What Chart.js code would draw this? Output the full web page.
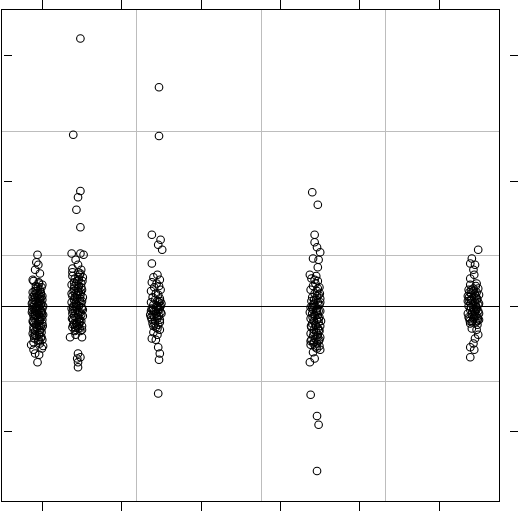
<!DOCTYPE html>
<html>
<head>
<meta charset="utf-8">
<script src="https://cdn.jsdelivr.net/npm/chart.js@4/dist/chart.umd.min.js"></script>
<style>
  html, body { margin: 0; padding: 0; background: #fff; }
  #wrap { width: 519px; height: 511px; }
</style>
</head>
<body>
<div id="wrap"><canvas id="chart"></canvas></div>
<script>
// group positions on the x axis (one strip per group)
const groupX = [0.94, 1.44, 2.43, 4.44, 6.43];

// residuals per group: [jitter, value]
const stripA = [
  [0.00, 0.41], [-0.015, 0.35], [0.01, 0.33], [0.03, 0.26], [-0.03, 0.29], [-0.06, 0.21], [0.06, 0.17],
  [-0.05, 0.20], [0.02, 0.18], [0.05, 0.15], [-0.02, 0.14], [0.00, 0.12], [-0.06, 0.11], [0.04, 0.10],
  [0.06, 0.08], [-0.03, 0.07], [0.01, 0.06], [-0.05, 0.05], [0.03, 0.04], [-0.01, 0.03], [0.05, 0.02],
  [-0.04, 0.01], [0.02, 0.00], [-0.06, -0.01], [0.06, -0.02], [0.00, -0.03], [-0.03, -0.04], [0.04, -0.05],
  [-0.05, -0.06], [0.02, -0.07], [-0.01, -0.08], [0.05, -0.09], [-0.04, -0.10], [0.03, -0.11], [-0.06, -0.12],
  [0.01, -0.13], [0.06, -0.14], [-0.02, -0.15], [0.04, -0.16], [-0.05, -0.17], [0.00, -0.18], [0.03, -0.19],
  [-0.03, -0.20], [0.05, -0.21], [-0.06, -0.22], [0.02, -0.23], [-0.01, -0.24], [0.04, -0.25], [-0.04, -0.26],
  [0.06, -0.27], [0.01, -0.28], [-0.05, -0.29], [0.03, -0.30], [0.03, 0.13], [-0.04, 0.09], [0.01, 0.02],
  [-0.02, -0.01], [0.05, -0.04], [-0.06, 0.03], [0.02, -0.12], [-0.03, -0.07], [0.06, 0.05], [-0.01, -0.17],
  [0.04, 0.11], [-0.05, -0.19], [0.00, 0.08], [0.03, -0.02], [-0.04, -0.14], [0.05, -0.25],
  [0.07, 0.00], [-0.07, -0.05], [0.02, 0.09], [-0.02, 0.16], [0.05, -0.18], [-0.03, -0.23], [0.01, -0.10],
  [0.06, -0.11], [-0.06, 0.07], [0.00, -0.06], [0.04, 0.01], [-0.05, -0.08], [0.02, -0.16], [-0.01, 0.00],
  [0.03, 0.06], [-0.04, -0.02], [0.07, -0.07], [-0.07, 0.02],
  [0.015, 0.19], [-0.035, 0.12], [0.045, 0.07], [-0.015, -0.03], [0.055, -0.06], [-0.055, -0.13],
  [0.025, -0.21], [-0.025, 0.04], [0.035, -0.09], [-0.045, -0.24], [0.005, 0.15], [0.065, -0.16],
  [-0.065, -0.03], [0.015, -0.27], [-0.015, 0.10],
  [-0.05, -0.35], [-0.03, -0.38], [0.02, -0.39], [0.00, -0.45], [0.055, -0.34], [0.07, -0.32], [-0.08, -0.31]
];
const stripB = [
  [0.04, 2.14], [-0.05, 1.37], [0.04, 0.92], [0.01, 0.87], [-0.01, 0.77], [0.04, 0.63],
  [-0.07, 0.42], [0.04, 0.42], [0.08, 0.41], [-0.02, 0.37], [0.01, 0.33], [-0.06, 0.30], [0.05, 0.29],
  [-0.06, 0.27], [0.03, 0.25], [0.07, 0.23], [-0.03, 0.22], [0.00, 0.20], [0.05, 0.18], [-0.07, 0.17],
  [0.02, 0.16], [-0.04, 0.14], [0.06, 0.13], [0.01, 0.12], [-0.02, 0.10], [0.04, 0.09], [-0.06, 0.08],
  [0.07, 0.07], [0.00, 0.06], [-0.04, 0.05], [0.03, 0.04], [-0.07, 0.03], [0.05, 0.02], [-0.01, 0.01],
  [0.02, 0.00], [-0.05, -0.01], [0.06, -0.02], [0.00, -0.03], [-0.03, -0.04], [0.04, -0.05], [-0.06, -0.06],
  [0.01, -0.07], [0.07, -0.08], [-0.02, -0.09], [0.03, -0.10], [-0.05, -0.11], [0.05, -0.12], [0.00, -0.13],
  [-0.04, -0.14], [0.02, -0.15], [0.06, -0.16], [-0.06, -0.17], [0.01, -0.18], [-0.02, -0.19], [0.04, -0.20],
  [-0.04, 0.19], [0.02, 0.11], [-0.01, -0.01], [0.05, 0.15], [-0.05, 0.00], [0.03, -0.13], [-0.03, 0.07],
  [0.00, -0.16], [0.07, -0.03], [-0.07, 0.10], [0.02, 0.21], [-0.02, 0.03], [0.05, -0.07], [-0.05, -0.15],
  [0.01, 0.14], [0.06, 0.04], [-0.04, -0.08], [0.00, 0.09], [0.03, -0.18], [-0.06, 0.24], [0.04, 0.26],
  [-0.03, -0.20], [0.02, -0.05], [-0.01, 0.18], [0.06, -0.19], [-0.07, -0.02],
  [0.015, 0.23], [-0.035, 0.16], [0.045, 0.11], [-0.015, 0.02], [0.055, -0.01], [-0.055, -0.04],
  [0.025, -0.11], [-0.025, -0.17], [0.035, 0.06], [-0.045, 0.12], [0.005, -0.09], [0.065, 0.20],
  [-0.065, -0.10], [0.015, 0.27], [-0.015, -0.14],
  [-0.09, -0.25], [0.06, -0.25], [-0.02, -0.23],
  [0.01, -0.38], [0.04, -0.41], [0.00, -0.42], [0.01, -0.45], [0.01, -0.49]
];
const stripC = [
  [0.04, 1.75], [0.04, 1.36], [-0.05, 0.57], [0.06, 0.53], [0.03, 0.49], [0.08, 0.45], [-0.05, 0.34],
  [0.02, 0.25], [-0.03, 0.23], [0.05, 0.21], [-0.05, 0.19], [0.01, 0.18], [0.04, 0.16], [-0.02, 0.15],
  [0.06, 0.13], [-0.06, 0.12], [0.00, 0.10], [0.03, 0.09], [-0.04, 0.07], [0.05, 0.06], [-0.01, 0.05],
  [0.02, 0.04], [-0.06, 0.03], [0.07, 0.02], [-0.03, 0.01], [0.01, 0.00], [0.05, -0.01], [-0.05, -0.02],
  [0.03, -0.03], [-0.02, -0.04], [0.06, -0.05], [0.00, -0.06], [-0.04, -0.07], [0.04, -0.08], [-0.06, -0.09],
  [0.02, -0.10], [0.05, -0.11], [-0.01, -0.12], [-0.04, -0.14], [0.03, -0.15], [0.00, -0.17], [0.05, -0.19],
  [-0.03, -0.21], [0.02, -0.23], [0.06, 0.00], [-0.06, -0.04], [0.01, -0.02],
  [0.07, -0.06], [-0.07, -0.07], [0.03, -0.01], [-0.02, -0.09], [0.05, -0.13], [-0.05, -0.11], [0.00, -0.04],
  [0.04, 0.03], [-0.03, -0.16], [0.02, -0.18],
  [0.015, -0.08], [-0.035, -0.03], [0.045, -0.03], [-0.015, -0.14], [0.055, 0.04],
  [-0.05, -0.26], [0.00, -0.27], [0.03, -0.33], [0.05, -0.38], [0.04, -0.43], [0.03, -0.70]
];
const stripD = [
  [-0.04, 0.91], [0.03, 0.81], [-0.01, 0.57], [-0.01, 0.51], [0.02, 0.47], [0.06, 0.43], [-0.03, 0.38],
  [0.04, 0.37], [0.03, 0.31], [-0.07, 0.25], [0.01, 0.24],
  [-0.05, 0.22], [0.03, 0.20], [0.00, 0.18], [-0.03, 0.16], [0.05, 0.15], [-0.06, 0.13], [0.02, 0.12],
  [-0.01, 0.10], [0.04, 0.09], [-0.04, 0.07], [0.06, 0.06], [0.01, 0.05], [-0.05, 0.04], [0.03, 0.03],
  [-0.02, 0.02], [0.05, 0.01], [0.00, 0.00], [-0.06, -0.01], [0.02, -0.02], [-0.03, -0.03], [0.06, -0.04],
  [0.01, -0.05], [-0.04, -0.06], [0.03, -0.07], [-0.01, -0.08], [0.05, -0.09], [-0.06, -0.10], [0.02, -0.11],
  [-0.02, -0.12], [0.04, -0.13], [-0.04, -0.14], [0.00, -0.15], [0.06, -0.16], [-0.05, -0.17], [0.03, -0.18],
  [-0.02, -0.19], [0.05, -0.20], [0.01, -0.21], [-0.06, -0.22], [0.03, -0.23], [-0.03, -0.24], [0.06, -0.25],
  [0.00, -0.26], [-0.05, -0.27], [0.04, -0.28], [-0.02, -0.29], [0.02, -0.30], [-0.06, -0.31], [0.05, -0.32],
  [0.00, -0.33], [-0.03, 0.01], [0.04, -0.04], [-0.01, -0.07], [0.02, 0.08],
  [0.07, -0.12], [-0.07, -0.05], [0.03, 0.14], [-0.02, -0.21], [0.05, -0.27], [-0.04, -0.01], [0.01, -0.16],
  [0.06, 0.03], [-0.06, -0.28], [0.02, -0.34], [-0.01, 0.21], [0.04, -0.10],
  [0.015, -0.04], [-0.035, -0.09], [0.045, -0.19], [-0.015, 0.05], [0.055, 0.10], [-0.055, -0.16],
  [0.025, -0.25], [-0.025, -0.30],
  [-0.07, -0.45], [-0.01, -0.42], [-0.03, -0.37], [0.06, -0.35],
  [-0.06, -0.71], [0.02, -0.88], [0.04, -0.95], [0.02, -1.32]
];
const stripE = [
  [0.06, 0.45], [-0.02, 0.38], [-0.04, 0.34], [0.02, 0.33], [0.00, 0.29], [0.01, 0.25], [-0.04, 0.22],
  [0.04, 0.18],
  [-0.04, 0.17], [0.03, 0.16], [0.06, 0.14], [-0.06, 0.13], [0.00, 0.12], [0.04, 0.11], [-0.03, 0.10],
  [0.07, 0.09], [-0.07, 0.08], [0.01, 0.07], [-0.02, 0.06], [0.05, 0.05], [-0.05, 0.04], [0.02, 0.03],
  [0.07, 0.02], [-0.01, 0.01], [-0.06, 0.00], [0.04, -0.01], [0.00, -0.02], [-0.04, -0.03], [0.06, -0.04],
  [0.02, -0.05], [-0.07, -0.06], [-0.02, -0.07], [0.05, -0.08], [0.01, -0.09], [-0.05, -0.10], [0.07, -0.11],
  [-0.01, -0.12], [0.03, -0.13], [-0.04, -0.14], [0.05, -0.15], [0.03, 0.00], [-0.03, 0.05], [0.00, -0.10],
  [0.06, 0.01], [-0.06, -0.09], [0.03, 0.08], [-0.03, -0.01], [0.05, -0.12], [-0.05, 0.11], [0.01, -0.04],
  [0.07, -0.06], [-0.07, 0.04], [0.00, 0.14], [0.04, -0.02], [-0.02, -0.13],
  [0.015, 0.10], [-0.035, 0.02], [0.045, 0.06], [-0.015, -0.05], [0.055, -0.10], [-0.055, 0.07],
  [0.025, -0.08], [-0.025, 0.13], [0.035, -0.03], [-0.045, -0.12],
  [-0.02, -0.18], [0.04, -0.19], [0.06, -0.23], [0.02, -0.26], [0.00, -0.30], [-0.04, -0.33], [0.01, -0.35],
  [-0.04, -0.41]
];
const strips = [stripA, stripB, stripC, stripD, stripE];

// axis tick values and reference (grid) values
const xTickValues = [1, 2, 3, 4, 5, 6];
const xGridValues = [2.184, 3.761, 5.32];
const yTickValues = [-1, 0, 1, 2];
const yGridValues = [-0.6, 0, 0.4, 1.4];
const xRange = [0.48, 6.752];
const yRange = [-1.56, 2.376];

(function () {

  function setTicks(values) {
    return function (axis) {
      axis.ticks = values.map(v => ({ value: v }));
    };
  }

  function tickAxis(axis, position, values, length, showBorder) {
    const range = axis === "x" ? xRange : yRange;
    return {
      type: "linear",
      axis: axis,
      position: position,
      min: range[0],
      max: range[1],
      afterBuildTicks: setTicks(values),
      ticks: { display: false },
      border: { display: showBorder, color: "#000", width: 1 },
      grid: {
        drawOnChartArea: false,
        drawTicks: true,
        tickLength: length,
        color: "#000",
        tickColor: "#000",
        lineWidth: 1
      }
    };
  }

  const datasets = strips.map(function (points, i) {
    return {
      type: "scatter",
      data: points.map(p => ({ x: groupX[i] + p[0], y: p[1] })),
      pointStyle: "circle",
      pointRadius: 3.8,
      pointBorderWidth: 1.1,
      pointBorderColor: "#000",
      pointBackgroundColor: "rgba(0,0,0,0)",
      xAxisID: "x",
      yAxisID: "y"
    };
  });

  const xTop = tickAxis("x", "top", xTickValues, 9, true);
  const xTicks = tickAxis("x", "bottom", xTickValues, 10, false);
  xTicks.weight = 1;
  const yTicksLeft = tickAxis("y", { x: 0.618 }, yTickValues, 8, false);
  const yTicksRight = tickAxis("y", { x: 6.991 }, yTickValues, 8, false);
  const yRight = tickAxis("y", "right", [], 0, true);
  yRight.grid.drawTicks = false;

  new Chart(document.getElementById("chart"), {
    type: "scatter",
    data: { datasets: datasets },
    options: {
      responsive: true,
      maintainAspectRatio: false,
      animation: false,
      layout: { autoPadding: false, padding: { left: 1, right: 20, top: 0, bottom: 0 } },
      plugins: { legend: { display: false }, tooltip: { enabled: false } },
      scales: {
        x: {
          type: "linear",
          position: "bottom",
          weight: 0,
          min: xRange[0],
          max: xRange[1],
          afterBuildTicks: setTicks(xGridValues),
          ticks: { display: false },
          border: { display: true, color: "#000", width: 1 },
          grid: { drawTicks: false, color: "#bdbdbd", lineWidth: 1 }
        },
        y: {
          type: "linear",
          position: "left",
          min: yRange[0],
          max: yRange[1],
          afterBuildTicks: setTicks(yGridValues),
          ticks: { display: false },
          border: { display: true, color: "#000", width: 1 },
          grid: {
            drawTicks: false,
            lineWidth: 1,
            color: ctx => ctx.tick && ctx.tick.value === 0 ? "#000" : "#bdbdbd"
          }
        },
        xTop: xTop,
        xTicks: xTicks,
        yRight: yRight,
        yTicksLeft: yTicksLeft,
        yTicksRight: yTicksRight
      }
    }
  });

})();
</script>
</body>
</html>
